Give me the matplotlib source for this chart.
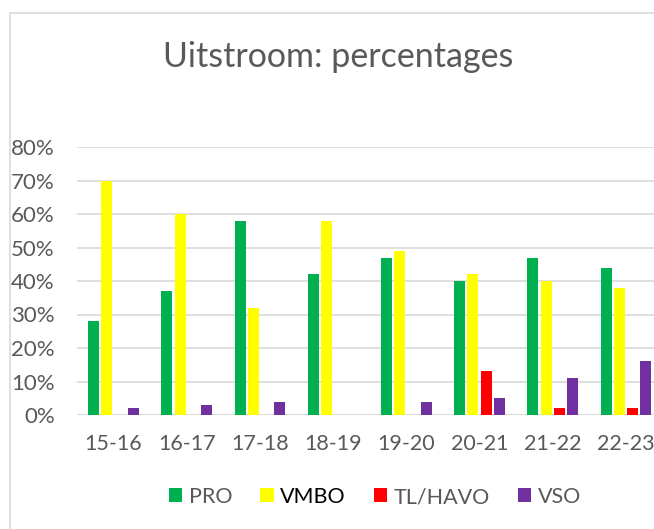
import matplotlib
matplotlib.use("Agg")
import matplotlib.pyplot as plt
import numpy as np
from matplotlib.patches import Rectangle, Patch

years = ["15-16", "16-17", "17-18", "18-19", "19-20", "20-21", "21-22", "22-23"]
series_names = ["PRO", "VMBO", "TL/HAVO", "VSO"]
pro = [28, 37, 58, 42, 47, 40, 47, 44]
vmbo = [70, 60, 32, 58, 49, 42, 40, 38]
tlhavo = [0, 0, 0, 0, 0, 13, 2, 2]
vso = [2, 3, 4, 0, 4, 5, 11, 16]
colors = ["#00B050", "#FFFF00", "#FF0000", "#7030A0"]
yticks = [0, 10, 20, 30, 40, 50, 60, 70, 80]

plt.rcParams['font.family'] = ['Lato', 'DejaVu Sans']
W, H = 654, 529
fig = plt.figure(figsize=(W / 100, H / 100), dpi=100)

# chart frame
fig.patches.append(Rectangle((9.5 / W, -0.1), 1.2, 1 - 12.5 / H + 0.1, transform=fig.transFigure,
                             facecolor='none', edgecolor='#d9d9d9', linewidth=1.2, zorder=0))

ax = fig.add_axes([77 / W, 1 - 415 / H, 585.6 / W, (415 - 147) / H])
x = np.arange(len(years))
slot = 0.182
bw = 0.15
data = [pro, vmbo, tlhavo, vso]
for i, (vals, c) in enumerate(zip(data, colors)):
    offs = (i - 1.5) * slot
    ax.bar(x + offs, [v / 100 for v in vals], width=bw, color=c, zorder=3, linewidth=0)

ax.set_xlim(-0.5, len(years) - 0.5)
ax.set_ylim(0, 0.8)
ax.set_yticks([t / 100 for t in yticks])
ax.set_yticklabels([f"{t}%" for t in yticks])
ax.set_xticks(x)
ax.set_xticklabels(years)
ax.tick_params(axis='both', length=0, labelsize=16, colors='#595959')
ax.tick_params(axis='x', labelsize=15.5)
ax.tick_params(axis='y', pad=16)
ax.tick_params(axis='x', pad=14)
ax.grid(axis='y', color='#d9d9d9', linewidth=1.2, zorder=0)
for s in ax.spines.values():
    s.set_visible(False)
ax.axhline(0, color='#d9d9d9', linewidth=1.2, zorder=1)

fig.text(338 / W, 1 - 57 / H, "Uitstroom: percentages", ha='center', va='center',
         fontsize=24.5, color='#595959')

handles = [Patch(facecolor=c, edgecolor='none') for c in colors]
leg = fig.legend(handles, series_names, loc='center', bbox_to_anchor=(375 / W, 1 - 497 / H),
                 ncol=4, frameon=False, fontsize=15.5, handlelength=0.62, handleheight=0.62,
                 handletextpad=0.3, columnspacing=1.3)
for t, col in zip(leg.get_texts(), ['#595959', '#000000', '#595959', '#595959']):
    t.set_color(col)

fig.savefig("out.png", dpi=100)
